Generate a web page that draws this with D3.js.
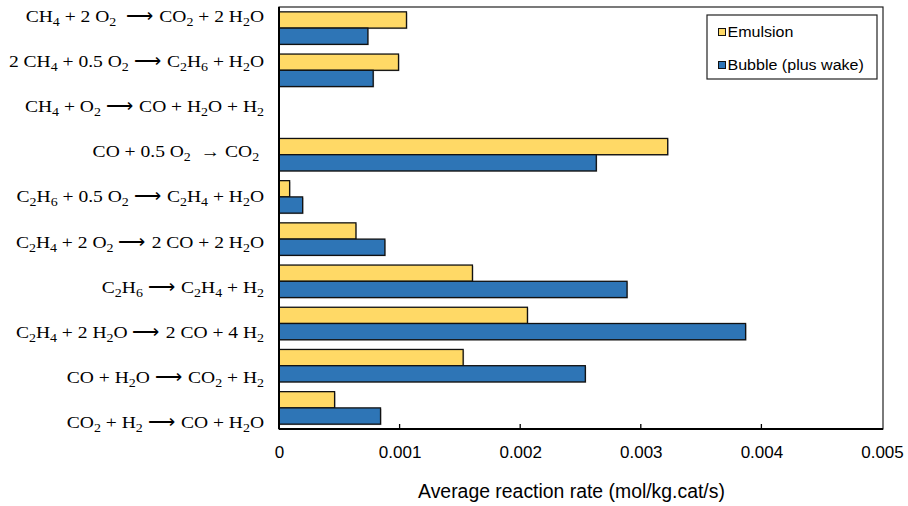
<!DOCTYPE html>
<html>
<head>
<meta charset="utf-8">
<script src="https://cdn.jsdelivr.net/npm/d3@7/dist/d3.min.js"></script>
<style>
  html, body { margin: 0; padding: 0; background: #fff; }
  svg { display: block; }
</style>
</head>
<body>
<svg id="chart" width="908" height="506"></svg>
<script>
// Reactions: each label is a list of [text, isSubscript] pieces.
const reactions = [
  [["CH",0],["4",1],[" + 2 O",0],["2",1],["  \u27F6 CO",0],["2",1],[" + 2 H",0],["2",1],["O",0]],
  [["2 CH",0],["4",1],[" + 0.5 O",0],["2",1],[" \u27F6 C",0],["2",1],["H",0],["6",1],[" + H",0],["2",1],["O",0]],
  [["CH",0],["4",1],[" + O",0],["2",1],[" \u27F6 CO + H",0],["2",1],["O + H",0],["2",1]],
  [["CO + 0.5 O",0],["2",1],["  \u2192 CO",0],["2",1],[" ",0]],
  [["C",0],["2",1],["H",0],["6",1],[" + 0.5 O",0],["2",1],[" \u27F6 C",0],["2",1],["H",0],["4",1],[" + H",0],["2",1],["O",0]],
  [["C",0],["2",1],["H",0],["4",1],[" + 2 O",0],["2",1],[" \u27F6 2 CO + 2 H",0],["2",1],["O",0]],
  [["C",0],["2",1],["H",0],["6",1],[" \u27F6 C",0],["2",1],["H",0],["4",1],[" + H",0],["2",1]],
  [["C",0],["2",1],["H",0],["4",1],[" + 2 H",0],["2",1],["O \u27F6 2 CO + 4 H",0],["2",1]],
  [["CO + H",0],["2",1],["O \u27F6 CO",0],["2",1],[" + H",0],["2",1]],
  [["CO",0],["2",1],[" + H",0],["2",1],[" \u27F6 CO + H",0],["2",1],["O",0]]
];

const seriesNames = ["Emulsion", "Bubble (plus wake)"];
const seriesColors = ["#FFD966", "#2E75B6"];

// Average reaction rates, mol/kg.cat/s
const emulsion = [0.001057, 0.000991, 0, 0.003223, 0.000088, 0.000638, 0.001604, 0.002060, 0.001527, 0.000461];
const bubble   = [0.000737, 0.000781, 0, 0.002631, 0.000196, 0.000878, 0.002886, 0.003869, 0.002540, 0.000842];

const xTicks = [0, 0.001, 0.002, 0.003, 0.004, 0.005];
const xTickLabels = ["0", "0.001", "0.002", "0.003", "0.004", "0.005"];
const xTitle = "Average reaction rate (mol/kg.cat/s)";

const svg = d3.select("#chart");
const plot = { left: 279, right: 883, top: 7, bottom: 429 };

const idx = d3.range(reactions.length);
const x = d3.scaleLinear().domain([0, 0.005]).range([plot.left, plot.right - 1]);
const y = d3.scaleBand().domain(idx).range([plot.top, plot.bottom]).paddingInner(0.23).paddingOuter(0.115);
const ySub = d3.scaleBand().domain([0, 1]).range([0, y.bandwidth()]);
const yLabel = d3.scalePoint().domain(idx).range([16, 422]);

const series = [emulsion, bubble];

// Bars
series.forEach((vals, s) => {
  const g = svg.append("g");
  // soft drop shadow
  g.selectAll("rect.sh").data(idx.filter(i => vals[i] > 0)).join("rect")
    .attr("x", plot.left + 1)
    .attr("y", i => y(i) + ySub(s) + 1)
    .attr("width", i => x(vals[i]) - plot.left)
    .attr("height", ySub.bandwidth())
    .attr("fill", "#9a9a9a").attr("opacity", 0.55);
  g.selectAll("rect.bar").data(idx.filter(i => vals[i] > 0)).join("rect")
    .attr("x", plot.left)
    .attr("y", i => y(i) + ySub(s))
    .attr("width", i => x(vals[i]) - plot.left)
    .attr("height", ySub.bandwidth())
    .attr("fill", seriesColors[s])
    .attr("stroke", "#111").attr("stroke-width", 1.3);
});

// Plot frame
svg.append("rect")
  .attr("x", plot.left).attr("y", plot.top)
  .attr("width", plot.right - plot.left).attr("height", plot.bottom - plot.top)
  .attr("fill", "none").attr("stroke", "#222").attr("stroke-width", 1.2);
svg.append("line")
  .attr("x1", plot.left).attr("x2", plot.left)
  .attr("y1", plot.top).attr("y2", plot.bottom)
  .attr("stroke", "#000").attr("stroke-width", 2);
svg.append("line")
  .attr("x1", plot.left).attr("x2", plot.right)
  .attr("y1", plot.bottom).attr("y2", plot.bottom)
  .attr("stroke", "#000").attr("stroke-width", 2);

// X axis: inward ticks, labels below
const xAxis = d3.axisBottom(x).tickValues(xTicks).tickSize(0).tickPadding(17)
  .tickFormat((d, i) => xTickLabels[i]);
const ax = svg.append("g").attr("transform", `translate(0,${plot.bottom})`).call(xAxis);
ax.select(".domain").remove();
ax.selectAll("text")
  .attr("font-family", "Liberation Sans, Arial, sans-serif")
  .attr("font-size", 17).attr("fill", "#000");
svg.append("g").selectAll("line").data(xTicks.slice(1, -1)).join("line")
  .attr("x1", d => x(d)).attr("x2", d => x(d))
  .attr("y1", plot.bottom).attr("y2", plot.bottom - 5)
  .attr("stroke", "#000").attr("stroke-width", 1.3);

svg.append("text")
  .attr("x", 571.5).attr("y", 498)
  .attr("text-anchor", "middle")
  .attr("font-family", "Liberation Sans, Arial, sans-serif")
  .attr("font-size", 19.4).attr("fill", "#000")
  .text(xTitle);

// Reaction labels with subscripts (serif, slightly widened)
const labels = svg.append("g")
  .attr("font-family", "Liberation Serif, Times New Roman, serif")
  .attr("font-size", 17.5).attr("fill", "#000");
idx.forEach(i => {
  const t = labels.append("text")
    .attr("transform", `translate(264,${yLabel(i) + 6}) scale(1.116,1)`)
    .attr("text-anchor", "end")
    .attr("xml:space", "preserve")
    .style("white-space", "pre");
  let sub = false;
  reactions[i].forEach(([txt, isSub]) => {
    const ts = t.append("tspan").text(txt);
    if (isSub && !sub) { ts.attr("dy", 4).attr("font-size", 12.5); sub = true; }
    else if (isSub) { ts.attr("font-size", 12.5); }
    else if (!isSub && sub) { ts.attr("dy", -4); sub = false; }
  });
});

// Legend
const lg = svg.append("g");
lg.append("rect").attr("x", 707).attr("y", 15).attr("width", 170).attr("height", 64)
  .attr("fill", "#fff").attr("stroke", "#222").attr("stroke-width", 1.2);
seriesNames.forEach((name, s) => {
  const cy = 32 + s * 33;
  lg.append("rect").attr("x", 718.5).attr("y", cy - 3.5).attr("width", 7).attr("height", 7)
    .attr("fill", seriesColors[s]).attr("stroke", "#111").attr("stroke-width", 1);
  lg.append("text")
    .attr("transform", `translate(727.5,${cy + 5}) scale(1.07,1)`)
    .attr("font-family", "Liberation Sans, Arial, sans-serif")
    .attr("font-size", 15).attr("fill", "#000")
    .text(name);
});
</script>
</body>
</html>
